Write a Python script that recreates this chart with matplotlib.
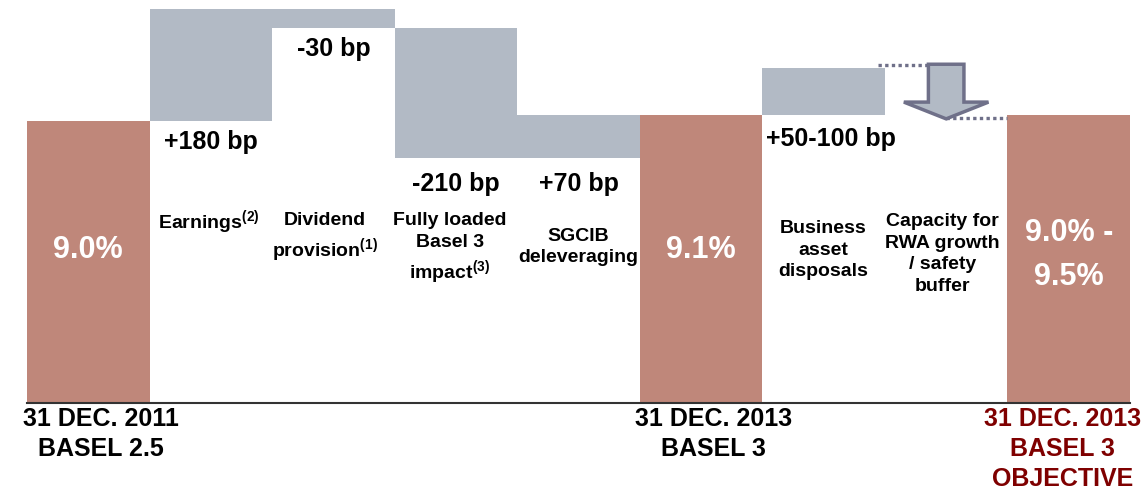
import numpy as np
import matplotlib
matplotlib.use("Agg")
import matplotlib.pyplot as plt
from matplotlib.patches import FancyArrow

plt.rcParams["font.family"] = ["Liberation Sans", "DejaVu Sans"]
plt.rcParams["font.weight"] = "bold"
plt.rcParams["mathtext.fontset"] = "custom"
plt.rcParams["mathtext.bf"] = "Liberation Sans:bold"
plt.rcParams["mathtext.rm"] = "Liberation Sans:bold"
plt.rcParams["mathtext.default"] = "bf"

# --- data (core tier 1 ratio, %) ---
start_value = 9.0
start_text = "9.0%"
step_names = ["Earnings$^{(2)}$", "Dividend\nprovision$^{(1)}$",
              "Fully loaded\nBasel 3\nimpact$^{(3)}$", "SGCIB\ndeleveraging"]
step_bp = [180, -30, -210, 70]
step_text = ["+180 bp", "-30 bp", "-210 bp", "+70 bp"]
mid_value = 9.1
mid_text = "9.1%"
disposal_name = "Business\nasset\ndisposals"
disposal_bp = 75            # drawn as middle of the 50-100 bp range
disposal_text = "+50-100 bp"
buffer_name = "Capacity for\nRWA growth\n/ safety\nbuffer"
buffer_end = 9.05
objective_value = 9.1
objective_text = "9.0% -\n9.5%"
dates = ["31 DEC. 2011\nBASEL 2.5", "31 DEC. 2013\nBASEL 3", "31 DEC. 2013\nBASEL 3\nOBJECTIVE"]

BROWN = "#BF877A"
GREY = "#B2BAC5"
SLATE = "#6F7089"
DARKRED = "#7F0000"

fig = plt.figure(figsize=(11.47, 4.96), dpi=100)
ax = fig.add_axes([27/1147, 0.1885, 1103/1147, 0.8115])
ax.set_xlim(-0.5, 8.5)
ax.set_ylim(4.46, 10.945)

# waterfall levels
levels = [start_value]
for d in step_bp:
    levels.append(levels[-1] + d/100)

ax.bar(0, start_value, width=1.0, color=BROWN)
for i, d in enumerate(step_bp):
    lo, hi = sorted([levels[i], levels[i+1]])
    ax.bar(i+1, hi-lo, bottom=lo, width=1.0, color=GREY)
ax.bar(5, mid_value, width=1.0, color=BROWN)
disp_top = mid_value + disposal_bp/100
ax.bar(6, disposal_bp/100, bottom=mid_value, width=1.0, color=GREY)
ax.bar(8, objective_value, width=1.0, color=BROWN)

# buffer arrow + dotted guides
ax.plot([6.44, 7.0], [disp_top + 0.04, disp_top + 0.04], color=SLATE, lw=2.4,
        linestyle=(0, (1, 1)), zorder=2)
ax.plot([7.0, 7.5], [buffer_end, buffer_end], color=SLATE, lw=2.4,
        linestyle=(0, (1, 1)), zorder=2)
arr = FancyArrow(7.0, disp_top + 0.06, 0, buffer_end - 0.02 - (disp_top + 0.06),
                 width=0.29, head_width=0.69, head_length=0.27,
                 length_includes_head=True, fc=GREY, ec=SLATE, lw=2.5, zorder=3)
ax.add_patch(arr)

# value labels under the floating bars
for i, t in enumerate(step_text):
    lo = min(levels[i], levels[i+1])
    off = -7 if i < 2 else -10
    ax.annotate(t, (i + 1, lo), xytext=(0, off), textcoords="offset points",
                ha="center", va="top", fontsize=18)
ax.annotate(disposal_text, (6, mid_value), xytext=(5, -9), textcoords="offset points",
            ha="center", va="top", fontsize=18)

# category labels
xform = ax.get_xaxis_transform()
cat_names = step_names + [disposal_name, buffer_name]
cat_x = [1, 2, 3, 4, 6, 7]
cat_y = [1 - 222/402.5, 1 - 238/402.5, 1 - 249/402.5, 1 - 247/402.5, 1 - 250/402.5, 1 - 254/402.5]
cat_dx = [-0.02, -0.07, -0.05, 0.0, 0.0, -0.03]
for n, x, y, dx in zip(cat_names, cat_x, cat_y, cat_dx):
    ax.text(x + dx, y, n, transform=xform, ha="center", va="center",
            fontsize=14, multialignment="center", linespacing=1.35)

# percentage labels in the brown bars
ax.text(0, 1 - 250/402.5, start_text, transform=xform, ha="center", va="center",
        color="white", fontsize=22)
ax.text(5, 1 - 250/402.5, mid_text, transform=xform, ha="center", va="center",
        color="white", fontsize=22)
ax.text(8, 1 - 255/402.5, objective_text, transform=xform, ha="center", va="center",
        color="white", fontsize=22, multialignment="center", linespacing=1.6)

# dates below the axis
for x, t, c in zip([0.1, 5.1, 7.95], dates, ["black", "black", DARKRED]):
    ax.text(x, -0.012, t, transform=xform, ha="center", va="top", fontsize=18,
            color=c, multialignment="center", linespacing=1.3)

for s in ["top", "right", "left"]:
    ax.spines[s].set_visible(False)
ax.spines["bottom"].set_color("#333333")
ax.spines["bottom"].set_linewidth(1.5)
ax.set_xticks([])
ax.set_yticks([])

fig.savefig("out.png", dpi=100)
